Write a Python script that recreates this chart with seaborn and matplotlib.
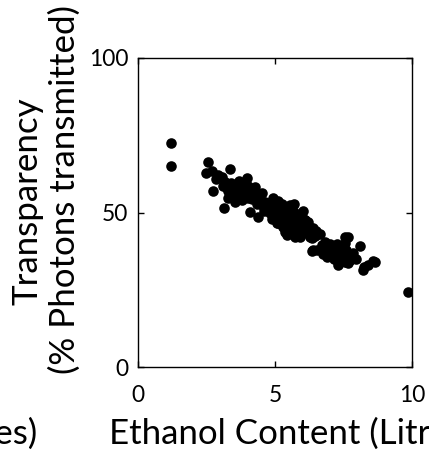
import matplotlib
matplotlib.use("Agg")
import matplotlib.pyplot as plt
import seaborn as sns
import pandas as pd
from matplotlib.textpath import TextPath
from matplotlib.font_manager import FontProperties

# ---- data ----
ethanol = [
    1.19, 1.19, 9.87,
    2.57, 2.48, 2.91, 3.36, 3.18, 2.75, 3.97, 3.60, 3.48, 3.30, 3.15, 3.79,
    4.27, 4.51, 4.09, 4.94, 4.39, 5.24, 4.94, 5.55, 5.12, 5.49,
    5.18, 5.69, 6.03, 5.43, 5.06, 5.55, 6.03, 6.40, 6.64, 5.43, 5.91, 6.28,
    6.40, 6.70, 7.07, 7.68, 7.55, 8.10, 7.25,
    6.82, 7.55, 7.13, 7.49, 6.89, 7.31, 7.74, 7.86, 8.26, 8.56, 8.65, 8.22,
    7.55, 6.34,
    2.70, 2.85, 3.05, 3.10, 3.25, 3.40, 3.50, 3.55, 3.65, 3.70, 3.85, 3.90,
    4.00, 4.05, 4.15, 4.20, 4.30, 4.35, 4.45, 4.55, 4.60, 4.65, 4.72, 4.80,
    4.85, 4.90, 5.00, 5.05, 5.10, 5.15, 5.20, 5.25, 5.30, 5.35, 5.38, 5.45,
    5.50, 5.58, 5.62, 5.65, 5.72, 5.78, 5.82, 5.88, 5.95, 6.00, 6.10, 6.15,
    6.20, 6.30, 6.35, 6.50, 6.55, 6.75, 6.95, 7.00, 7.20, 7.40, 7.65, 7.95,
    8.40,
    3.40, 3.60, 3.80, 3.90, 4.10, 3.55, 3.70, 4.00, 4.20, 3.30,
    4.60, 4.75, 4.85, 5.00, 5.10, 5.20, 5.30, 5.40, 5.45, 5.60, 5.70, 5.80,
    5.85, 5.90, 6.05, 6.10, 6.20, 6.25, 6.45, 5.75, 5.60, 5.30, 5.36, 5.73,
    6.34, 6.09, 7.31, 7.68,
    7.15, 7.35, 7.45, 7.60, 7.80, 7.25, 7.00,
]
transparency = [
    72.4, 65.0, 24.4,
    66.4, 62.9, 62.1, 64.0, 60.0, 57.1, 61.1, 58.9, 56.2, 54.6, 51.4, 54.0,
    58.3, 56.2, 50.3, 54.6, 48.6, 52.9, 49.2, 52.4, 46.5, 47.0,
    52.9, 52.9, 50.6, 49.7, 46.5, 45.4, 46.5, 44.9, 43.0, 42.7, 42.2, 42.2,
    37.9, 39.5, 37.9, 42.0, 40.0, 39.2, 36.2,
    40.6, 42.2, 37.9, 38.9, 35.7, 34.1, 34.6, 36.8, 32.4, 34.4, 34.1, 31.4,
    34.1, 37.6,
    63.5, 60.8, 61.5, 58.5, 57.8, 59.5, 57.5, 55.0, 56.8, 60.2, 57.5, 55.5,
    58.6, 56.0, 54.5, 57.0, 55.2, 52.8, 54.0, 52.0, 50.5, 53.5, 51.2, 49.8,
    52.5, 48.0, 51.0, 49.0, 53.8, 50.2, 47.8, 45.8, 49.2, 51.5, 46.3, 48.2,
    44.2, 49.5, 46.8, 44.8, 48.0, 45.6, 43.8, 47.2, 44.6, 48.5, 45.2, 43.4,
    47.0, 45.0, 43.0, 44.0, 38.0, 36.5, 38.8, 36.0, 39.0, 36.0, 36.2, 35.0,
    33.0,
    58.0, 57.5, 56.5, 58.5, 57.0, 53.5, 55.0, 54.8, 55.8, 56.8,
    52.5, 53.0, 50.8, 52.2, 48.2, 50.8, 47.2, 50.5, 44.8, 47.8, 50.2, 47.2,
    45.0, 49.3, 44.2, 47.5, 45.5, 43.8, 42.5, 43.2, 43.6, 45.2, 43.8, 42.0,
    41.6, 47.6, 33.0, 33.6,
    35.0, 37.2, 35.2, 37.8, 35.8, 39.8, 39.8,
]
x_ticks = [0, 5, 10]
y_ticks = [0, 50, 100]
x_label = "Ethanol Content (Litres)"
y_label_1 = "Transparency"
y_label_2 = "(% Photons transmitted)"
left_panel_label = "Ethanol Content (Litres)"

df = pd.DataFrame({"ethanol": ethanol, "transparency": transparency})

# ---- style ----
W, H, DPI = 429, 455, 100
FONT = "Lato"
sns.set_theme(style="white")
plt.rcParams["font.family"] = [FONT, "DejaVu Sans"]


def fit(text, px):
    tp = TextPath((0, 0), text, size=100, prop=FontProperties(family=FONT))
    w = tp.get_extents().width
    return 100 * px / (w * DPI / 72)


label_size = fit(y_label_2, 366)
tick_size = fit("100", 37)

fig = plt.figure(figsize=(W / DPI, H / DPI), dpi=DPI)
ax = fig.add_axes([138 / W, 1 - 367 / H, 274 / W, 309 / H])

sns.scatterplot(data=df, x="ethanol", y="transparency", ax=ax,
                color="black", s=58, linewidth=0, legend=False)

ax.set_xlim(0, 10)
ax.set_ylim(0, 100)
ax.set_xticks(x_ticks)
ax.set_yticks(y_ticks)
ax.set_xticklabels([str(t) for t in x_ticks])
ax.set_yticklabels([str(t) for t in y_ticks])
for s in ax.spines.values():
    s.set_color("black")
    s.set_linewidth(1.0)
ax.tick_params(direction="in", length=4, width=1, color="black",
               top=True, right=True, bottom=True, left=True,
               labelsize=tick_size, labelcolor="black")
ax.tick_params(axis="x", pad=13)
ax.tick_params(axis="y", pad=7)

ax.set_ylabel("")
ax.set_xlabel(x_label, fontsize=label_size, color="black", va="top", ha="left")
ax.xaxis.set_label_coords((109 - 138) / 274, (367 - 418) / 309)

fig.text(27 / W, 1 - 201 / H, y_label_1, rotation=90, ha="center",
         va="center", fontsize=label_size, color="black")
fig.text(65 / W, 1 - 189 / H, y_label_2, rotation=90, ha="center",
         va="center", fontsize=label_size, color="black")
fig.text(37 / W, 1 - 418 / H, left_panel_label, ha="right", va="top",
         fontsize=label_size, color="black")

fig.savefig("out.png", dpi=DPI)
